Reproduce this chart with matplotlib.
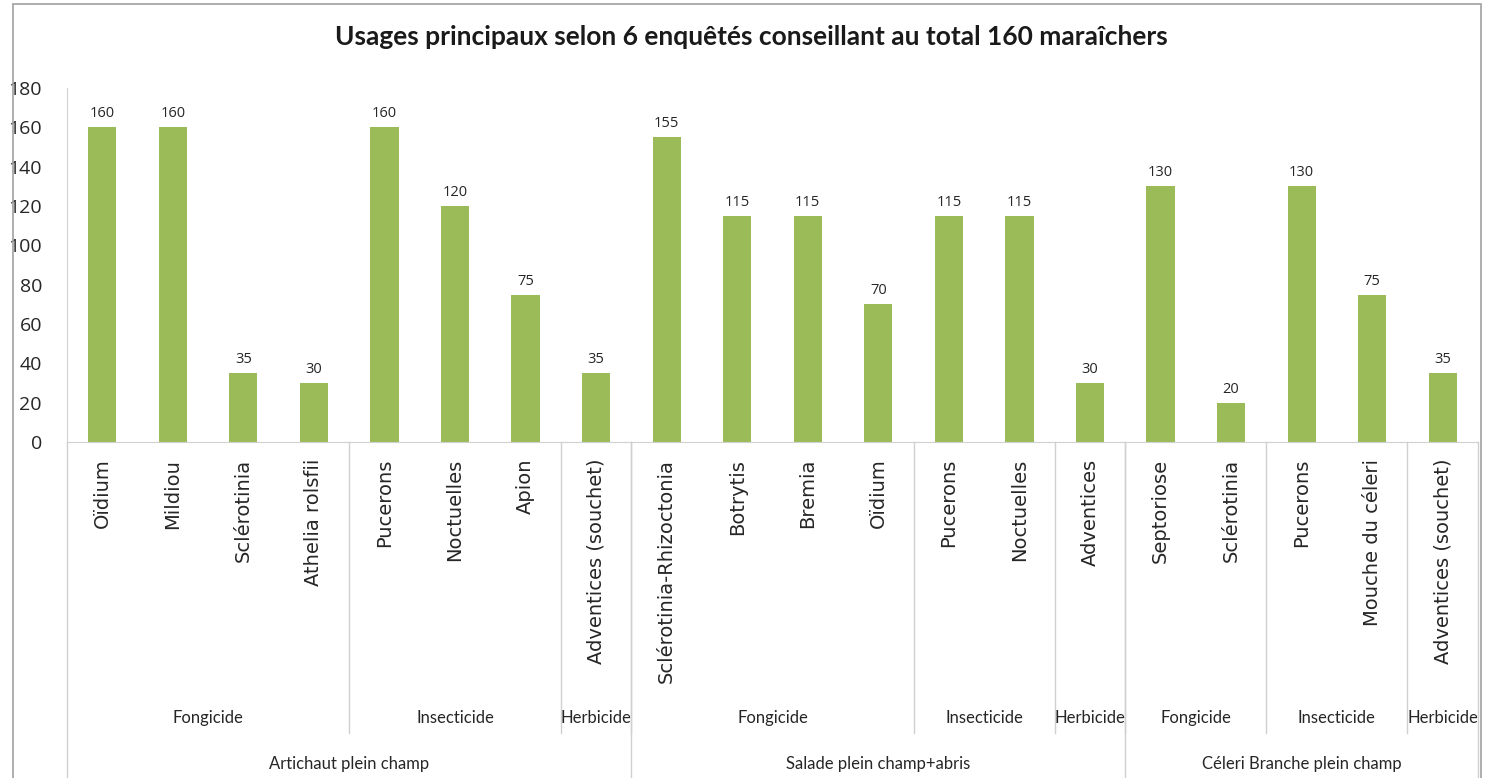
import numpy as np
import matplotlib.pyplot as plt
from matplotlib.patches import Rectangle

# bar labels (lowest level of the category axis)
labels = ["Oïdium", "Mildiou", "Sclérotinia", "Athelia rolsfii",
          "Pucerons", "Noctuelles", "Apion", "Adventices (souchet)",
          "Sclérotinia-Rhizoctonia", "Botrytis", "Bremia", "Oïdium",
          "Pucerons", "Noctuelles", "Adventices",
          "Septoriose", "Sclérotinia", "Pucerons", "Mouche du céleri",
          "Adventices (souchet)"]
values = [160, 160, 35, 30, 160, 120, 75, 35,
          155, 115, 115, 70, 115, 115, 30,
          130, 20, 130, 75, 35]

# usage type groups (middle level) and their sizes
types = ["Fongicide", "Insecticide", "Herbicide",
         "Fongicide", "Insecticide", "Herbicide",
         "Fongicide", "Insecticide", "Herbicide"]
type_sizes = [4, 3, 1, 4, 2, 1, 2, 2, 1]

# crops (top level) and their sizes
crops = ["Artichaut plein champ", "Salade plein champ+abris", "Céleri Branche plein champ"]
crop_sizes = [8, 7, 5]

title = "Usages principaux selon 6 enquêtés conseillant au total 160 maraîchers"

GREEN = "#9BBB59"
TXT = "#262626"
LINE = "#d0d0d0"

fig = plt.figure(figsize=(15.03, 7.78), dpi=100)
fig.patches.append(Rectangle((13 / 1503, -0.05), (1481 - 13) / 1503, 1.05 - 4 / 778,
                             transform=fig.transFigure, fill=False,
                             edgecolor="#a0a0a0", linewidth=1.2))

ax = fig.add_axes([67 / 1503, 1 - 442 / 778, (1478 - 67) / 1503, (442 - 88) / 778])

x = np.arange(len(values))
bars = ax.bar(x, values, width=0.4, color=GREEN)
for xi, v in zip(x, values):
    ax.text(xi, v + 3, str(v), ha="center", va="bottom", fontsize=10.5,
            family="Open Sans", color=TXT)

ax.set_xlim(-0.5, len(values) - 0.5)
ax.set_ylim(0, 180)
ax.set_yticks(range(0, 181, 20))
ax.tick_params(axis="y", length=0, pad=18, labelsize=14, labelcolor=TXT)
for t in ax.get_yticklabels():
    t.set_family("Open Sans")

ax.set_xticks(x)
ax.set_xticklabels(labels, rotation=90, fontsize=14, family="DejaVu Sans", color=TXT)
ax.tick_params(axis="x", length=0, pad=12)

for s in ["top", "right"]:
    ax.spines[s].set_visible(False)
ax.spines["left"].set_color(LINE)
ax.spines["bottom"].set_color(LINE)

trans = ax.get_xaxis_transform()

# middle level: usage types
pos = 0
for name, n in zip(types, type_sizes):
    ax.text(pos + (n - 1) / 2, -0.781, name, transform=trans, ha="center", va="center",
            fontsize=12, family="Lato", color=TXT)
    pos += n
    if pos < len(values):
        ax.plot([pos - 0.5, pos - 0.5], [0, -0.822], transform=trans, color=LINE,
                linewidth=1, clip_on=False)

# top level: crops
pos = 0
for name, n in zip(crops, crop_sizes):
    ax.text(pos + (n - 1) / 2, -0.911, name, transform=trans, ha="center", va="center",
            fontsize=12, family="Lato", color=TXT)
    pos += n
    ax.plot([pos - 0.5, pos - 0.5], [0, -1.0], transform=trans, color=LINE,
            linewidth=1, clip_on=False)
ax.plot([-0.5, -0.5], [0, -1.0], transform=trans, color=LINE, linewidth=1, clip_on=False)

fig.text(0.5, 1 - 37 / 778, title, ha="center", va="center", fontsize=19,
         fontweight="bold", family="Lato", color="#1a1a1a")

fig.savefig("out.png", dpi=100)
